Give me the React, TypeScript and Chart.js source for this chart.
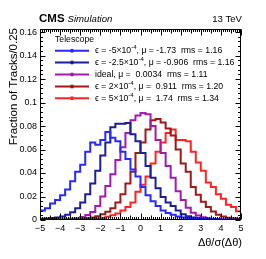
import React, { useEffect, useRef } from "react";
import { Chart, registerables } from "chart.js";

Chart.register(...registerables);

// ---- data ----
const BIN_LOW_EDGES = [
  -5, -4.75, -4.5, -4.25, -4, -3.75, -3.5, -3.25, -3, -2.75,
  -2.5, -2.25, -2, -1.75, -1.5, -1.25, -1, -0.75, -0.5, -0.25,
  0, 0.25, 0.5, 0.75, 1, 1.25, 1.5, 1.75, 2, 2.25,
  2.5, 2.75, 3, 3.25, 3.5, 3.75, 4, 4.25, 4.5, 4.75,
];
const X_UPPER_EDGE = 5;

const SERIES_EPS_M5 = [
  0.008, 0.010, 0.014, 0.017, 0.021, 0.026, 0.033, 0.041, 0.047, 0.058,
  0.066, 0.064, 0.068, 0.075, 0.070, 0.067, 0.058, 0.052, 0.043, 0.037,
  0.028, 0.021, 0.016, 0.012, 0.008, 0.006, 0.0045, 0.003, 0.0022, 0.0016,
  0.0012, 0.0009, 0.0007, 0.0005, 0.0004, 0.0003, 0.0003, 0.0002, 0.0002, 0.0001,
];
const SERIES_EPS_M25 = [
  0.0010, 0.0012, 0.0016, 0.0022, 0.0030, 0.0045, 0.0065, 0.0100, 0.0150, 0.0220,
  0.0310, 0.0420, 0.0550, 0.0660, 0.0790, 0.0820, 0.0820, 0.0825, 0.0730, 0.0670,
  0.0570, 0.0460, 0.0360, 0.0270, 0.0195, 0.0150, 0.0120, 0.0080, 0.0050, 0.0032,
  0.0022, 0.0016, 0.0011, 0.0008, 0.0006, 0.0005, 0.0004, 0.0003, 0.0003, 0.0002,
];
const SERIES_IDEAL = [
  0.0002, 0.0002, 0.0003, 0.0004, 0.0005, 0.0007, 0.0010, 0.0015, 0.0025, 0.0042,
  0.0068, 0.0120, 0.0200, 0.0290, 0.0390, 0.0510, 0.0620, 0.0740, 0.0850, 0.0890,
  0.0910, 0.0900, 0.0800, 0.0680, 0.0570, 0.0460, 0.0360, 0.0245, 0.0170, 0.0105,
  0.0062, 0.0038, 0.0024, 0.0015, 0.0010, 0.0007, 0.0005, 0.0004, 0.0003, 0.0002,
];
const SERIES_EPS_P2 = [
  0.0002, 0.0002, 0.0002, 0.0003, 0.0003, 0.0004, 0.0005, 0.0007, 0.0010, 0.0015,
  0.0022, 0.0032, 0.0048, 0.0070, 0.0100, 0.0150, 0.0220, 0.0310, 0.0410, 0.0570,
  0.0660, 0.0770, 0.0850, 0.0860, 0.0830, 0.0780, 0.0720, 0.0600, 0.0480, 0.0410,
  0.0280, 0.0215, 0.0155, 0.0110, 0.0072, 0.0045, 0.0030, 0.0020, 0.0014, 0.0010,
];
const SERIES_EPS_P5 = [
  0.0001, 0.0001, 0.0001, 0.0001, 0.0002, 0.0002, 0.0003, 0.0004, 0.0005, 0.0007,
  0.0010, 0.0013, 0.0018, 0.0028, 0.0040, 0.0055, 0.0080, 0.0110, 0.0150, 0.0240,
  0.0300, 0.0370, 0.0480, 0.0580, 0.0660, 0.0740, 0.0770, 0.0680, 0.0680, 0.0670,
  0.0580, 0.0490, 0.0420, 0.0320, 0.0280, 0.0220, 0.0180, 0.0130, 0.0110, 0.0075,
];

const SERIES_LABELS = [
  "ϵ = -5×10^{-4}, μ = -1.73  rms = 1.16",
  "ϵ = -2.5×10^{-4}, μ = -0.906  rms = 1.16",
  "ideal, μ =  0.0034  rms = 1.11",
  "ϵ = 2×10^{-4}, μ =  0.911  rms = 1.20",
  "ϵ = 5×10^{-4}, μ =  1.74  rms = 1.34",
];
const SERIES_COLORS = [
  "rgb(40,40,255)",
  "rgb(30,30,150)",
  "rgb(165,25,175)",
  "rgb(160,25,25)",
  "rgb(255,35,35)",
];
const LEGEND_HEADER = "Telescope";

const X_TICKS = [-5, -4, -3, -2, -1, 0, 1, 2, 3, 4, 5];
const Y_TICKS = [0, 0.02, 0.04, 0.06, 0.08, 0.1, 0.12, 0.14, 0.16];
const Y_MAX = 0.1626;

const X_TITLE = "Δθ/σ(Δθ)";
const Y_TITLE = "Fraction of Tracks/0.25";
const EXP_LABEL = "CMS";
const EXP_SUB = "Simulation";
const ENERGY_LABEL = "13 TeV";

const FONT = "'Liberation Sans', Arial, Helvetica, sans-serif";

function drawRich(ctx: CanvasRenderingContext2D, text: string, x: number, y: number, size: number) {
  const parts = text.split(/\^\{([^}]*)\}/);
  let cx = x;
  parts.forEach((p, i) => {
    if (!p) return;
    if (i % 2 === 1) {
      ctx.font = `${size * 0.7}px ${FONT}`;
      ctx.fillText(p, cx, y - size * 0.35);
      cx += ctx.measureText(p).width;
    } else {
      ctx.font = `${size}px ${FONT}`;
      ctx.fillText(p, cx, y);
      cx += ctx.measureText(p).width;
    }
  });
}

const decorPlugin = {
  id: "rootDecor",
  afterDraw(chart: any) {
    const ctx: CanvasRenderingContext2D = chart.ctx;
    const { left, right, top, bottom } = chart.chartArea;
    const xs = chart.scales.x;
    const ys = chart.scales.y;
    ctx.save();
    ctx.strokeStyle = "#000";
    ctx.fillStyle = "#000";
    ctx.lineWidth = 1;
    const L = Math.round(left) + 0.5;
    const R = Math.round(right) - 0.5;
    const T = Math.round(top) + 0.5;
    const B = Math.round(bottom) - 0.5;
    ctx.strokeRect(L, T, R - L, B - T);

    ctx.beginPath();
    for (let i = 0; i < Y_TICKS.length; i++) {
      const v = Y_TICKS[i];
      const py = Math.round(ys.getPixelForValue(v)) + 0.5;
      ctx.moveTo(L, py); ctx.lineTo(L + 5, py);
      ctx.moveTo(R, py); ctx.lineTo(R - 5, py);
      const step = (Y_TICKS[1] - Y_TICKS[0]) / 5;
      for (let k = 1; k < 5; k++) {
        const mv = v + k * step;
        if (mv > Y_MAX) break;
        const my = Math.round(ys.getPixelForValue(mv)) + 0.5;
        ctx.moveTo(L, my); ctx.lineTo(L + 2.5, my);
        ctx.moveTo(R, my); ctx.lineTo(R - 2.5, my);
      }
    }
    for (let i = 0; i < X_TICKS.length; i++) {
      const v = X_TICKS[i];
      const px = Math.round(xs.getPixelForValue(v)) + 0.5;
      ctx.moveTo(px, B); ctx.lineTo(px, B - 6);
      ctx.moveTo(px, T); ctx.lineTo(px, T + 6);
      if (i < X_TICKS.length - 1) {
        const step = (X_TICKS[i + 1] - v) / 10;
        for (let k = 1; k < 10; k++) {
          const mx = Math.round(xs.getPixelForValue(v + k * step)) + 0.5;
          const len = k === 5 ? 4 : 2.5;
          ctx.moveTo(mx, B); ctx.lineTo(mx, B - len);
          ctx.moveTo(mx, T); ctx.lineTo(mx, T + len);
        }
      }
    }
    ctx.stroke();

    ctx.textBaseline = "alphabetic";
    ctx.textAlign = "left";
    ctx.font = `bold 11.5px ${FONT}`;
    ctx.fillText(EXP_LABEL, left - 1, 22);
    const cmsW = ctx.measureText(EXP_LABEL).width;
    ctx.font = `italic 9.6px ${FONT}`;
    ctx.fillText(EXP_SUB, left - 1 + cmsW + 3, 22);
    ctx.textAlign = "right";
    ctx.font = `9.6px ${FONT}`;
    ctx.fillText(ENERGY_LABEL, right + 1, 22);

    ctx.font = `11px ${FONT}`;
    ctx.textAlign = "right";
    ctx.fillText(X_TITLE, right + 1, 246);
    ctx.save();
    ctx.translate(17, top - 1);
    ctx.rotate(-Math.PI / 2);
    ctx.font = `11.5px ${FONT}`;
    ctx.textAlign = "right";
    ctx.fillText(Y_TITLE, 0, 0);
    ctx.restore();

    ctx.textAlign = "left";
    ctx.textBaseline = "middle";
    ctx.font = `8.7px ${FONT}`;
    ctx.fillText(LEGEND_HEADER, 55, 39.5);
    for (let i = 0; i < SERIES_LABELS.length; i++) {
      const y = 50.7 + i * 11.9;
      ctx.strokeStyle = SERIES_COLORS[i];
      ctx.fillStyle = SERIES_COLORS[i];
      ctx.lineWidth = 2;
      ctx.beginPath();
      ctx.moveTo(55, y);
      ctx.lineTo(89, y);
      ctx.stroke();
      ctx.beginPath();
      ctx.arc(72, y, 2, 0, Math.PI * 2);
      ctx.fill();
      ctx.fillStyle = "#000";
      drawRich(ctx, SERIES_LABELS[i], 95, y, 8.7);
    }
    ctx.restore();
  },
};

function fmtY(v: number) {
  return String(Number(v.toFixed(3)));
}
function fmtX(v: number) {
  return v < 0 ? "\u2212" + Math.abs(v) : String(v);
}

export default function App() {
  const ref = useRef<HTMLCanvasElement | null>(null);
  useEffect(() => {
    if (!ref.current) return;
    const series = [SERIES_EPS_M5, SERIES_EPS_M25, SERIES_IDEAL, SERIES_EPS_P2, SERIES_EPS_P5];
    const datasets = series.map((vals, i) => ({
      label: SERIES_LABELS[i],
      data: [
        ...BIN_LOW_EDGES.map((x, j) => ({ x, y: vals[j] })),
        { x: X_UPPER_EDGE, y: vals[vals.length - 1] },
      ],
      borderColor: SERIES_COLORS[i],
      backgroundColor: SERIES_COLORS[i],
      borderWidth: 2,
      stepped: true as const,
      pointRadius: 0,
      fill: false,
      tension: 0,
    }));
    const chart = new Chart(ref.current, {
      type: "line",
      data: { datasets },
      options: {
        responsive: false,
        animation: false,
        events: [],
        layout: { padding: { top: 29, right: 25, left: 0, bottom: 0 } },
        plugins: { legend: { display: false }, tooltip: { enabled: false } },
        scales: {
          x: {
            type: "linear",
            min: -5,
            max: 5,
            grid: { display: false, drawTicks: false },
            border: { display: false },
            afterBuildTicks: (s: any) => {
              s.ticks = X_TICKS.map((v) => ({ value: v }));
            },
            afterFit: (s: any) => {
              s.height = 39;
            },
            ticks: {
              autoSkip: false,
              maxRotation: 0,
              padding: 3,
              color: "#000",
              font: { family: FONT, size: 9 },
              callback: (v: any) => fmtX(Number(v)),
            },
          },
          y: {
            type: "linear",
            min: 0,
            max: Y_MAX,
            grid: { display: false, drawTicks: false },
            border: { display: false },
            afterBuildTicks: (s: any) => {
              s.ticks = Y_TICKS.map((v) => ({ value: v }));
            },
            afterFit: (s: any) => {
              s.width = 40;
            },
            ticks: {
              autoSkip: false,
              padding: 3,
              color: "#000",
              font: { family: FONT, size: 9 },
              callback: (v: any) => fmtY(Number(v)),
            },
          },
        },
      },
      plugins: [decorPlugin],
    });
    return () => chart.destroy();
  }, []);
  return (
    <div style={{ position: "fixed", left: 0, top: 0, width: 266, height: 259, background: "#fff" }}>
      <canvas ref={ref} width={266} height={259} style={{ width: 266, height: 259, display: "block" }} />
    </div>
  );
}
